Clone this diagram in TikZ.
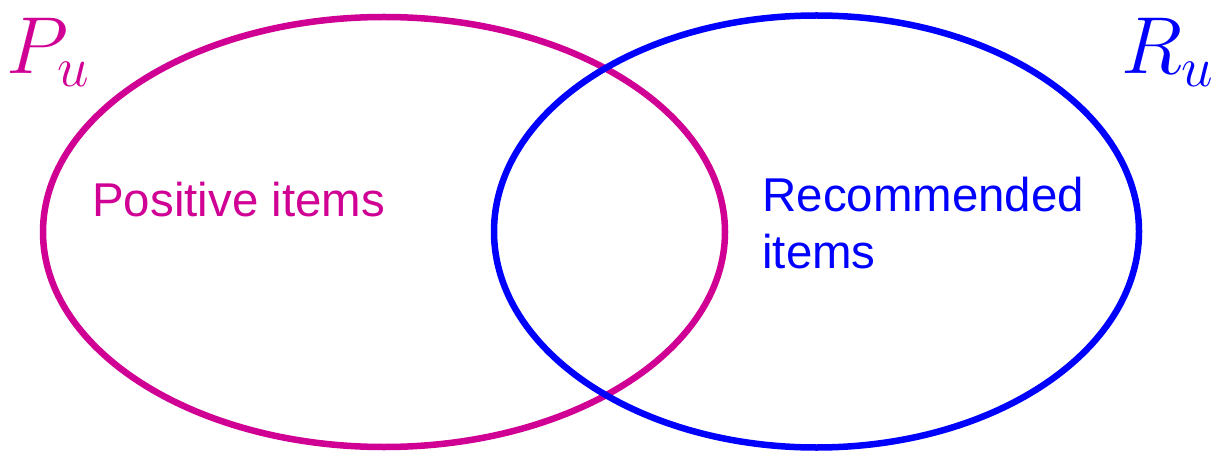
\RequirePackage{fix-cm}
\documentclass[tikz,border=0pt]{standalone}
\usepackage{fontspec}
\setmainfont{Liberation Sans}
\usepackage{xcolor}
\usepackage{tikz}
\definecolor{posmag}{RGB}{208,0,148}
\definecolor{recblue}{RGB}{0,0,255}

\begin{document}
\begin{tikzpicture}[scale=1.0,every node/.style={font=\fontsize{27}{32}\selectfont,inner sep=0pt}]
  \useasboundingbox (0,0) rectangle (24.28,9.06);
  \draw[line width=3.7pt,posmag] (7.68,4.42) ellipse [x radius=6.82,y radius=4.30];
  \draw[line width=3.7pt,recblue] (16.33,4.43) ellipse [x radius=6.45,y radius=4.32];
  \node[posmag,anchor=base west] (pos) at (1.84,4.72) {Positive items};
  \node[recblue,anchor=base west,align=left] (rec) at (15.24,3.70) {Recommended\\items};
  \node[posmag,anchor=base west,font=\fontsize{46}{50}\selectfont] (pu) at (0.12,7.58) {$P_u$};
  \node[recblue,anchor=base west,font=\fontsize{46}{50}\selectfont] (ru) at (22.42,7.58) {$R_u$};
\end{tikzpicture}
\end{document}
